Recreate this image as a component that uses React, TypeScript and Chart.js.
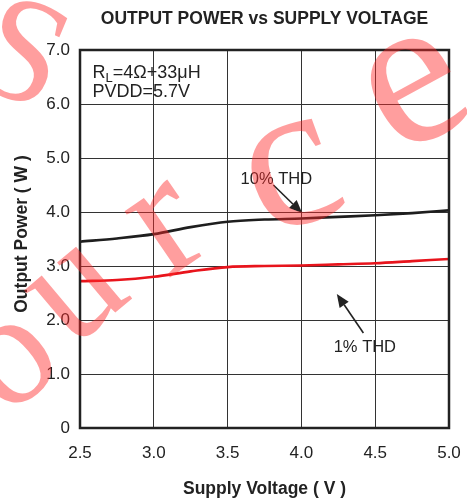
import React, { useEffect, useRef } from "react";
import { Chart, registerables } from "chart.js";

Chart.register(...registerables);

const voltage = [2.5, 2.75, 3.0, 3.25, 3.5, 3.75, 4.0, 4.25, 4.5, 4.75, 5.0];
const thd10 = [3.45, 3.51, 3.59, 3.72, 3.82, 3.86, 3.88, 3.91, 3.94, 3.98, 4.03];
const thd1 = [2.72, 2.74, 2.80, 2.90, 2.98, 3.00, 3.01, 3.03, 3.05, 3.09, 3.13];

const titleText = "OUTPUT POWER vs SUPPLY VOLTAGE";
const xTitle = "Supply Voltage ( V )";
const yTitle = "Output Power ( W )";

// annotation anchors in data units
const label10 = { text: "10% THD", x: 3.83, y: 4.61, tailX: 3.81, tailY: 4.5, tipX: 4.005, tipY: 3.98 };
const label1 = { text: "1% THD", x: 4.43, y: 1.5, tailX: 4.42, tailY: 1.76, tipX: 4.24, tipY: 2.48 };

const watermark = [
  { ch: "S", x: 20, y: 60, rot: 0.4, size: 150 },
  { ch: "o", x: 10, y: 360, rot: -0.7, size: 160 },
  { ch: "u", x: 75, y: 290, rot: -0.7, size: 165 },
  { ch: "r", x: 165, y: 225, rot: -0.6, size: 175 },
  { ch: "c", x: 290, y: 170, rot: -0.35, size: 210 },
  { ch: "e", x: 412, y: 85, rot: -0.5, size: 215 },
];

const SANS = '"Liberation Sans", Arial, sans-serif';
const TXT = "#222";

function arrow(ctx: CanvasRenderingContext2D, x1: number, y1: number, x2: number, y2: number) {
  const ang = Math.atan2(y2 - y1, x2 - x1);
  const L = 13, W = 5.5;
  const bx = x2 - L * Math.cos(ang), by = y2 - L * Math.sin(ang);
  ctx.strokeStyle = TXT;
  ctx.lineWidth = 1.6;
  ctx.beginPath();
  ctx.moveTo(x1, y1);
  ctx.lineTo(bx, by);
  ctx.stroke();
  ctx.fillStyle = TXT;
  ctx.beginPath();
  ctx.moveTo(x2, y2);
  ctx.lineTo(bx + W * Math.sin(ang), by - W * Math.cos(ang));
  ctx.lineTo(bx - W * Math.sin(ang), by + W * Math.cos(ang));
  ctx.closePath();
  ctx.fill();
}

const decor = {
  id: "decor",
  afterDraw(chart: any) {
    const ctx: CanvasRenderingContext2D = chart.ctx;
    const a = chart.chartArea;
    const xs = chart.scales.x, ys = chart.scales.y;
    ctx.save();
    // border
    ctx.strokeStyle = TXT;
    ctx.lineWidth = 2.5;
    ctx.strokeRect(a.left, a.top, a.right - a.left, a.bottom - a.top);

    // title
    ctx.fillStyle = TXT;
    ctx.textAlign = "center";
    ctx.textBaseline = "alphabetic";
    ctx.font = `bold 17.5px ${SANS}`;
    ctx.fillText(titleText, (a.left + a.right) / 2, 24);

    // x title
    ctx.font = `bold 17.5px ${SANS}`;
    ctx.fillText(xTitle, (a.left + a.right) / 2, 494);

    // y title
    ctx.save();
    ctx.translate(27, (a.top + a.bottom) / 2 - 5);
    ctx.rotate(-Math.PI / 2);
    ctx.fillText(yTitle, 0, 0);
    ctx.restore();

    // condition text
    ctx.textAlign = "left";
    ctx.font = `18px ${SANS}`;
    const tx = xs.getPixelForValue(2.585);
    let cx = tx;
    const b1 = ys.getPixelForValue(6.48);
    ctx.fillText("R", cx, b1);
    cx += ctx.measureText("R").width;
    ctx.font = `13px ${SANS}`;
    ctx.fillText("L", cx, b1 + 4);
    cx += ctx.measureText("L").width;
    ctx.font = `18px ${SANS}`;
    ctx.fillText("=4Ω+33μH", cx, b1);
    ctx.fillText("PVDD=5.7V", tx, ys.getPixelForValue(6.13));

    // annotations
    ctx.textAlign = "center";
    ctx.textBaseline = "middle";
    ctx.font = `16.5px ${SANS}`;
    for (const l of [label10, label1]) {
      ctx.fillStyle = TXT;
      ctx.fillText(l.text, xs.getPixelForValue(l.x), ys.getPixelForValue(l.y));
      arrow(ctx, xs.getPixelForValue(l.tailX), ys.getPixelForValue(l.tailY), xs.getPixelForValue(l.tipX), ys.getPixelForValue(l.tipY));
    }

    // watermark
    ctx.fillStyle = "rgba(255, 40, 40, 0.45)";
    ctx.textBaseline = "middle";
    ctx.textAlign = "center";
    for (const w of watermark) {
      ctx.save();
      ctx.translate(w.x, w.y);
      ctx.rotate(w.rot);
      ctx.font = `${w.size}px "Liberation Serif", "DejaVu Serif", serif`;
      ctx.fillText(w.ch, 0, 0);
      ctx.restore();
    }
    ctx.restore();
  },
};

export default function App() {
  const ref = useRef<HTMLCanvasElement | null>(null);
  useEffect(() => {
    document.body.style.margin = "0";
    const c = ref.current!;
    const chart = new Chart(c, {
      type: "line",
      data: {
        labels: voltage,
        datasets: [
          {
            label: "10% THD",
            data: voltage.map((v, i) => ({ x: v, y: thd10[i] })),
            borderColor: "#1e1e1e",
            borderWidth: 2.6,
            pointRadius: 0,
            cubicInterpolationMode: "monotone",
          },
          {
            label: "1% THD",
            data: voltage.map((v, i) => ({ x: v, y: thd1[i] })),
            borderColor: "#e8141c",
            borderWidth: 2.6,
            pointRadius: 0,
            cubicInterpolationMode: "monotone",
          },
        ],
      },
      options: {
        responsive: false,
        animation: false,
        events: [],
        layout: { padding: { left: 0, top: 50, right: 18, bottom: 0 } },
        plugins: { legend: { display: false }, tooltip: { enabled: false }, title: { display: false } },
        scales: {
          x: {
            type: "linear",
            min: 2.5,
            max: 5.0,
            afterFit: (s: any) => { s.height = 70; s.paddingLeft = 0; s.paddingRight = 0; },
            border: { display: false },
            grid: { color: "#333", lineWidth: 1, drawTicks: false },
            ticks: {
              stepSize: 0.5,
              padding: 15,
              color: TXT,
              font: { family: SANS, size: 17 },
              callback: (v: any) => Number(v).toFixed(1),
            },
          },
          y: {
            min: 0,
            max: 7,
            afterFit: (s: any) => { s.width = 80; s.paddingTop = 0; s.paddingBottom = 0; },
            border: { display: false },
            grid: { color: "#333", lineWidth: 1, drawTicks: false },
            ticks: {
              stepSize: 1,
              padding: 10,
              color: TXT,
              font: { family: SANS, size: 17 },
              callback: (v: any) => (Number(v) === 0 ? "0" : Number(v).toFixed(1)),
            },
          },
        },
      },
      plugins: [decor],
    } as any);
    return () => chart.destroy();
  }, []);
  return (
    <div style={{ width: 467, height: 498 }}>
      <canvas ref={ref} width={467} height={498} />
    </div>
  );
}
